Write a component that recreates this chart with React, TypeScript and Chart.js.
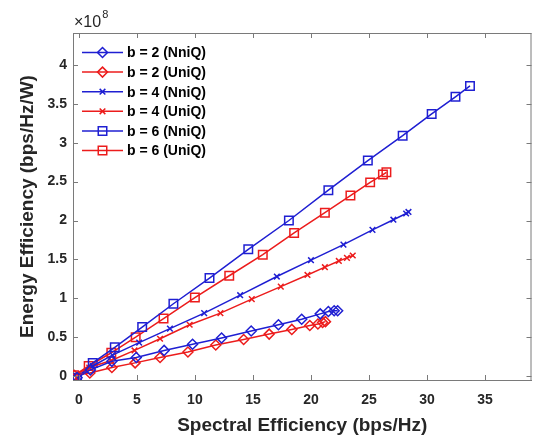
import React, { useEffect, useRef } from 'react';
import { Chart, registerables } from 'chart.js';
Chart.register(...registerables);

// Values in units of 1e8 bps/Hz/W (axis shows ×10^8)
const seriesLabels = ['b = 2 (NniQ)', 'b = 2 (UniQ)', 'b = 4 (NniQ)', 'b = 4 (UniQ)', 'b = 6 (NniQ)', 'b = 6 (UniQ)'];

const b2NniQ_x = [-0.15, 1.0, 2.85, 4.95, 7.35, 9.8, 12.3, 14.85, 17.2, 19.2, 20.8, 21.5, 22.0, 22.3];
const b2NniQ_y = [-0.02, 0.08, 0.19, 0.24, 0.33, 0.41, 0.49, 0.58, 0.66, 0.73, 0.8, 0.83, 0.84, 0.84];

const b2UniQ_x = [-0.4, 0.95, 2.85, 4.85, 7.0, 9.4, 11.8, 14.2, 16.4, 18.35, 19.9, 20.6, 21.0, 21.25];
const b2UniQ_y = [0.01, 0.04, 0.11, 0.17, 0.24, 0.31, 0.4, 0.47, 0.54, 0.6, 0.65, 0.67, 0.69, 0.7];

const b4NniQ_x = [-0.15, 1.2, 2.9, 5.2, 7.85, 10.8, 13.9, 17.06, 20.0, 22.8, 25.3, 27.1, 28.2, 28.4];
const b4NniQ_y = [-0.02, 0.13, 0.27, 0.43, 0.61, 0.81, 1.04, 1.28, 1.49, 1.69, 1.88, 2.01, 2.09, 2.11];

const b4UniQ_x = [-0.4, 0.9, 2.8, 4.8, 7.0, 9.55, 12.2, 14.9, 17.4, 19.7, 21.2, 22.4, 23.1, 23.6];
const b4UniQ_y = [0.01, 0.11, 0.2, 0.33, 0.48, 0.66, 0.81, 0.99, 1.15, 1.3, 1.4, 1.48, 1.52, 1.55];

const b6NniQ_x = [-0.15, 1.2, 3.1, 5.46, 8.15, 11.26, 14.6, 18.1, 21.5, 24.9, 27.9, 30.4, 32.45, 33.7];
const b6NniQ_y = [-0.02, 0.17, 0.37, 0.63, 0.93, 1.26, 1.63, 2.0, 2.39, 2.77, 3.09, 3.37, 3.59, 3.73];

const b6UniQ_x = [-0.4, 0.85, 2.8, 4.9, 7.3, 10.0, 12.96, 15.85, 18.55, 21.2, 23.4, 25.1, 26.2, 26.5];
const b6UniQ_y = [0.01, 0.13, 0.3, 0.5, 0.74, 1.01, 1.29, 1.56, 1.84, 2.1, 2.32, 2.49, 2.59, 2.62];

const xTickValues = [0, 5, 10, 15, 20, 25, 30, 35];
const yTickValues = [0, 0.5, 1, 1.5, 2, 2.5, 3, 3.5, 4];
const yTickLabels = ['0', '0.5', '1', '1.5', '2', '2.5', '3', '3.5', '4'];

const BLUE = '#1f1fd2';
const RED = '#ec1c1c';
const AXIS = '#7a7a7a';
const TEXT = '#262626';
const FONT = '"Liberation Sans", Arial, sans-serif';

const toPts = (xs: number[], ys: number[]) => xs.map((x, i) => ({ x, y: ys[i] }));

const markerDefs = [
  { color: BLUE, style: 'rectRot', r: 5 },
  { color: RED, style: 'rectRot', r: 5 },
  { color: BLUE, style: 'crossRot', r: 4 },
  { color: RED, style: 'crossRot', r: 4 },
  { color: BLUE, style: 'rect', r: 6 },
  { color: RED, style: 'rect', r: 6 },
];

function drawMarker(ctx: CanvasRenderingContext2D, style: string, r: number, x: number, y: number, color: string) {
  ctx.save();
  ctx.strokeStyle = color;
  ctx.lineWidth = 1.5;
  ctx.beginPath();
  if (style === 'rectRot') {
    ctx.moveTo(x, y - r);
    ctx.lineTo(x + r, y);
    ctx.lineTo(x, y + r);
    ctx.lineTo(x - r, y);
    ctx.closePath();
  } else if (style === 'rect') {
    const s = r * Math.SQRT1_2;
    ctx.rect(x - s, y - s, 2 * s, 2 * s);
  } else {
    const s = r * Math.SQRT1_2;
    ctx.moveTo(x - s, y - s);
    ctx.lineTo(x + s, y + s);
    ctx.moveTo(x + s, y - s);
    ctx.lineTo(x - s, y + s);
  }
  ctx.stroke();
  ctx.restore();
}

const overlayPlugin = {
  id: 'matlabOverlay',
  afterDraw(chart: any) {
    const ctx = chart.ctx;
    const { left, right, top, bottom } = chart.chartArea;
    const xs = chart.scales.x;
    const ys = chart.scales.y;
    ctx.save();
    ctx.strokeStyle = AXIS;
    ctx.lineWidth = 1;
    ctx.beginPath();
    ctx.moveTo(left, top + 0.5);
    ctx.lineTo(right, top + 0.5);
    ctx.moveTo(right - 0.5, top);
    ctx.lineTo(right - 0.5, bottom);
    const tl = 5;
    xTickValues.forEach((v) => {
      const px = Math.round(xs.getPixelForValue(v)) + 0.5;
      ctx.moveTo(px, bottom);
      ctx.lineTo(px, bottom - tl);
      ctx.moveTo(px, top);
      ctx.lineTo(px, top + tl);
    });
    yTickValues.forEach((v) => {
      const py = Math.round(ys.getPixelForValue(v)) + 0.5;
      ctx.moveTo(left, py);
      ctx.lineTo(left + tl, py);
      ctx.moveTo(right, py);
      ctx.lineTo(right - tl, py);
    });
    ctx.stroke();

    // exponent label
    ctx.fillStyle = TEXT;
    ctx.textBaseline = 'alphabetic';
    ctx.textAlign = 'left';
    ctx.font = `16px ${FONT}`;
    ctx.fillText('\u00d710', left + 1, 27);
    const w = ctx.measureText('\u00d710').width;
    ctx.font = `11px ${FONT}`;
    ctx.fillText('8', left + 1 + w + 1, 18);

    // legend
    const rowY0 = 52.5;
    const rowH = 19.6;
    chart.data.datasets.forEach((ds: any, i: number) => {
      const y = rowY0 + i * rowH;
      const m = markerDefs[i];
      ctx.strokeStyle = m.color;
      ctx.lineWidth = 1.5;
      ctx.beginPath();
      ctx.moveTo(82, y);
      ctx.lineTo(123, y);
      ctx.stroke();
      drawMarker(ctx, m.style, m.r, 102.5, y, m.color);
      ctx.fillStyle = 'black';
      ctx.font = `bold 14px ${FONT}`;
      ctx.textBaseline = 'middle';
      ctx.fillText(ds.label, 127, y + 1);
    });
    ctx.restore();
  },
};

export default function App() {
  const ref = useRef<HTMLCanvasElement | null>(null);
  useEffect(() => {
    document.body.style.margin = '0';
    if (!ref.current) return;
    const seriesData = [
      toPts(b2NniQ_x, b2NniQ_y),
      toPts(b2UniQ_x, b2UniQ_y),
      toPts(b4NniQ_x, b4NniQ_y),
      toPts(b4UniQ_x, b4UniQ_y),
      toPts(b6NniQ_x, b6NniQ_y),
      toPts(b6UniQ_x, b6UniQ_y),
    ];
    const chart = new Chart(ref.current, {
      type: 'scatter',
      data: {
        datasets: seriesData.map((d, i) => ({
          label: seriesLabels[i],
          data: d,
          showLine: true,
          borderColor: markerDefs[i].color,
          borderWidth: 1.5,
          pointStyle: markerDefs[i].style as any,
          pointRadius: markerDefs[i].r,
          pointBorderColor: markerDefs[i].color,
          pointBackgroundColor: 'rgba(0,0,0,0)',
          pointBorderWidth: 1.5,
          tension: 0,
        })),
      },
      options: {
        animation: false,
        responsive: false,
        devicePixelRatio: 1,
        layout: { padding: { top: 33, right: 0, left: 0, bottom: 0 } },
        plugins: { legend: { display: false }, tooltip: { enabled: false } },
        scales: {
          x: {
            type: 'linear',
            min: -0.5,
            max: 39,
            afterBuildTicks: (s: any) => {
              s.ticks = xTickValues.map((v) => ({ value: v }));
            },
            afterFit: (s: any) => {
              s.height = 57;
            },
            grid: { display: false, drawTicks: false },
            border: { display: true, color: AXIS, width: 1 },
            ticks: {
              color: TEXT,
              font: { family: FONT, size: 14, weight: 'bold' },
              padding: 12,
              maxRotation: 0,
              callback: (v: any) => String(v),
            },
            title: {
              display: true,
              text: 'Spectral Efficiency (bps/Hz)',
              color: TEXT,
              font: { family: FONT, size: 19, weight: 'bold' },
              padding: { top: 0, bottom: 0 },
            },
          },
          y: {
            type: 'linear',
            min: -0.05,
            max: 4.41,
            afterBuildTicks: (s: any) => {
              s.ticks = yTickValues.map((v) => ({ value: v }));
            },
            afterFit: (s: any) => {
              s.width = 73;
            },
            grid: { display: false, drawTicks: false },
            border: { display: true, color: AXIS, width: 1 },
            ticks: {
              color: TEXT,
              font: { family: FONT, size: 14, weight: 'bold' },
              padding: 6,
              callback: (v: any) => {
                const idx = yTickValues.indexOf(v);
                return idx >= 0 ? yTickLabels[idx] : '';
              },
            },
            title: {
              display: true,
              text: 'Energy Efficiency (bps/Hz/W)',
              color: TEXT,
              font: { family: FONT, size: 19, weight: 'bold' },
              padding: { top: 16, bottom: 0 },
            },
          },
        },
      } as any,
      plugins: [overlayPlugin],
    });
    return () => chart.destroy();
  }, []);
  return (
    <div style={{ position: 'absolute', left: 0, top: 0, width: 539, height: 437, background: 'white' }}>
      <canvas ref={ref} width={539} height={437} />
    </div>
  );
}
